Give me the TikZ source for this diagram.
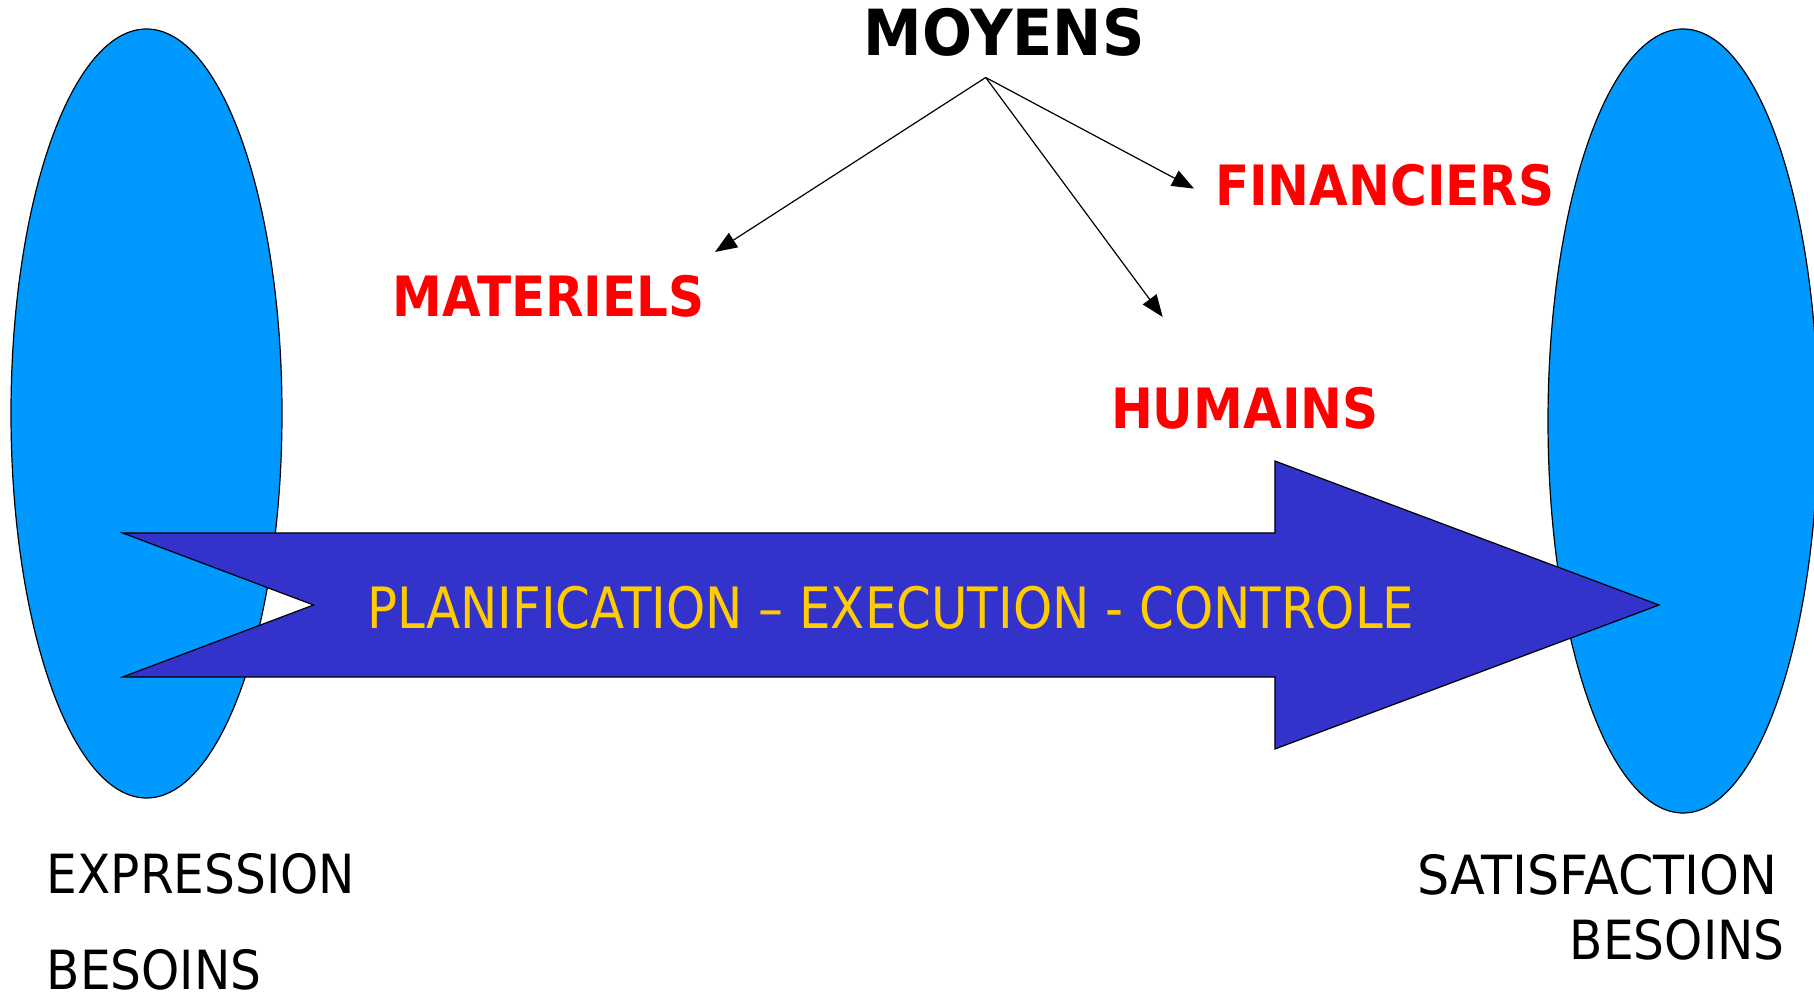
\documentclass[tikz,border=0pt]{standalone}
\usepackage{fontspec}
\setmainfont{DejaVu Sans}[FakeStretch=0.90]
\newfontfamily\widef{DejaVu Sans}[FakeStretch=0.94]
\newfontfamily\flowf{DejaVu Sans}[FakeStretch=0.875]
\newfontfamily\boldf{DejaVu Sans Bold}[FakeStretch=0.90]
\newfontfamily\titlef{DejaVu Sans Bold}[FakeStretch=0.925]
\usetikzlibrary{arrows.meta}
\definecolor{ellblue}{HTML}{0099FF}
\definecolor{arrowblue}{HTML}{3333CC}
\definecolor{flowtext}{HTML}{FFCC00}
\definecolor{meansred}{HTML}{FF0000}
\begin{document}
\begin{tikzpicture}[x=0.5pt,y=-0.5pt,
  blob/.style={draw=black, line width=0.6pt, fill=ellblue},
  bigarrow/.style={draw=black, line width=0.6pt, fill=arrowblue},
  conn/.style={draw=black, line width=0.6pt, -{Triangle[length=11pt,width=8.5pt]}},
  title/.style={inner sep=0pt, text=black, font=\titlef\fontsize{31.8}{38}\selectfont},
  means/.style={inner sep=0pt, text=meansred, font=\boldf\fontsize{27.8}{33}\selectfont},
  plain/.style={inner sep=0pt, text=black, font=\fontsize{27}{32}\selectfont},
  flow/.style={inner sep=0pt, text=flowtext, font=\flowf\fontsize{28.5}{34}\selectfont}]
\useasboundingbox (0,0) rectangle (1814,999);
% ellipses
\draw[blob] (146.5,413.5) ellipse [x radius=67.75pt, y radius=192.25pt];
\draw[blob] (1683,421) ellipse [x radius=67.5pt, y radius=196pt];
% big arrow
\draw[bigarrow] (122.6,533) -- (1274.9,533) -- (1274.9,461) -- (1659,605)
  -- (1274.9,749) -- (1274.9,677) -- (122.6,677) -- (313.5,605) -- cycle;
\node[flow, anchor=base] (pec) at (891,628) {PLANIFICATION – EXECUTION - CONTROLE};
% titles
\node[title, anchor=base] (moyens) at (1004,55.5) {MOYENS};
\node[means, anchor=base west] (fin) at (1214.7,206) {FINANCIERS};
\node[means, anchor=base west] (mat) at (392,317) {MATERIELS};
\node[means, anchor=base west] (hum) at (1110.6,429) {HUMAINS};
% connectors
\coordinate (src) at (985.7,77.5);
\coordinate (tmat) at (715,252);
\coordinate (thum) at (1162.7,317);
\coordinate (tfin) at (1194,188.6);
\draw[conn] (src) -- (tmat);
\draw[conn] (src) -- (thum);
\draw[conn] (src) -- (tfin);
% bottom labels
\node[plain, anchor=base west] (expr) at (46.3,893) {EXPRESSION};
\node[plain, anchor=base west] (bes1) at (46.3,989) {BESOINS};
\node[plain, anchor=base east, font=\widef\fontsize{27}{32}\selectfont] (sat) at (1778,894) {SATISFACTION};
\node[plain, anchor=base east] (bes2) at (1785,959) {BESOINS};
\end{tikzpicture}
\end{document}
